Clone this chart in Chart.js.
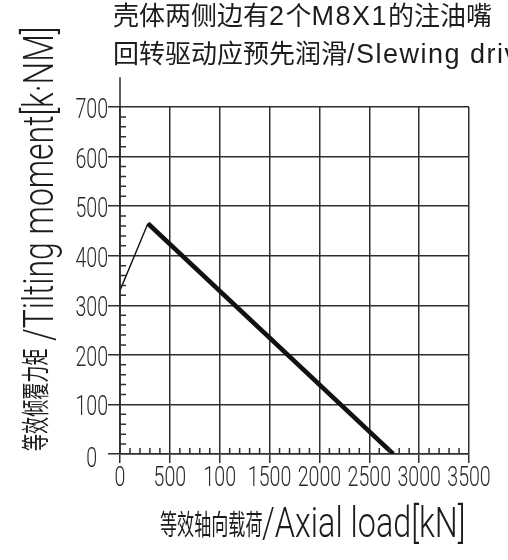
<!DOCTYPE html>
<html>
<head>
<meta charset="utf-8">
<script src="https://cdn.jsdelivr.net/npm/chart.js@4"></script>
<style>
  body { margin: 0; background: #fff; }
  #wrap { position: relative; width: 508px; height: 560px; overflow: hidden; }
  .t { position: absolute; white-space: nowrap; color: #1c1c1c; }
  .hdr { left: 113px; font: 26px "Liberation Sans", "Noto Sans CJK SC", sans-serif; line-height: 26px; }
  .hdr b { font-weight: normal; font-size: 27px; letter-spacing: 1.5px; }
  .cjk { font: 28px "Noto Sans CJK SC", sans-serif; line-height: 28px; transform-origin: 0 0; }
  .lat { font: 300 42px Roboto, "Liberation Sans", sans-serif; line-height: 42px; transform-origin: 0 0; }
</style>
</head>
<body>
<div id="wrap">
  <canvas id="myChart" width="508" height="560"></canvas>
  <div class="t hdr" style="top:3px">壳体两侧边有<b>2</b>个<b>M8X1</b>的注油嘴</div>
  <div class="t hdr" style="top:41px">回转驱动应预先润滑<b>/Slewing drive should be pre-lubricated</b></div>
  <div class="t cjk" style="left:20px;top:451px;transform:rotate(-90deg) scaleX(0.61)">等效倾覆力矩</div>
  <div class="t lat" style="left:18px;top:341px;transform:rotate(-90deg) scaleX(0.76)">/Tilting moment[k·NM]</div>
  <div class="t cjk" style="left:160px;top:509px;transform:scaleX(0.61)">等效轴向载荷</div>
  <div class="t lat" style="left:262px;top:502px;transform:scaleX(0.77)">/Axial load[kN]</div>
</div>
<script>
// curve points
const axialLoad = [0, 280, 2740]
const tiltingMoment = [330, 465, 0]

const xTickValues = [0, 500, 1000, 1500, 2000, 2500, 3000, 3500]
const xTickLabels = ['0', '500', '100', '1500', '2000', '2500', '3000', '3500']
const yTickValues = [0, 100, 200, 300, 400, 500, 600, 700]
const yTickLabels = ['0', '100', '200', '300', '400', '500', '600', '700']

const xMinorStep = 100
const yMinorStep = 20
const yAxisTop = 760

const lineColor = '#2e2e2e'
const textColor = '#2a2a2a'

const ctx = document.querySelector('#myChart')

// minor ticks, axis stub above 700 and the narrow tick labels
const cadAxes = {
    id: 'cadAxes',
    afterDraw(chart) {
        const { ctx, scales: { x, y } } = chart
        const x0 = x.getPixelForValue(0)
        const y0 = y.getPixelForValue(0)
        ctx.save()
        ctx.strokeStyle = lineColor
        ctx.lineWidth = 1.5
        ctx.beginPath()
        ctx.moveTo(x0, y0)
        ctx.lineTo(x0, y.getPixelForValue(yAxisTop))
        for (let v = xMinorStep; v < x.max; v += xMinorStep) {
            if (v % 500 === 0) continue
            const px = x.getPixelForValue(v)
            ctx.moveTo(px, y0)
            ctx.lineTo(px, y0 - 6)
        }
        for (let v = yMinorStep; v < y.max; v += yMinorStep) {
            if (v % 100 === 0) continue
            const py = y.getPixelForValue(v)
            ctx.moveTo(x0, py)
            ctx.lineTo(x0 + 6, py)
        }
        ctx.stroke()

        ctx.fillStyle = textColor
        ctx.font = '300 28px Roboto, "Liberation Sans", sans-serif'
        ctx.textBaseline = 'alphabetic'
        x.ticks.forEach((t, i) => {
            ctx.save()
            ctx.translate(x.getPixelForValue(t.value), y0 + 32)
            ctx.scale(0.7, 1)
            ctx.textAlign = 'center'
            ctx.fillText(xTickLabels[i], 0, 0)
            ctx.restore()
        })
        y.ticks.forEach((t, i) => {
            ctx.save()
            ctx.translate(t.value === 0 ? x0 - 23 : x0 - 12, y.getPixelForValue(t.value) + (t.value === 0 ? 13 : 11))
            ctx.scale(0.7, 1)
            ctx.textAlign = 'right'
            ctx.fillText(yTickLabels[i], 0, 0)
            ctx.restore()
        })
        ctx.restore()
    }
}

new Chart(ctx, {
    type: 'line',
    data: {
        datasets: [{
            data: axialLoad.map((v, i) => ({ x: v, y: tiltingMoment[i] })),
            borderColor: '#111',
            borderWidth: 4,
            pointRadius: 0,
            tension: 0,
            segment: {
                borderWidth: c => c.p0DataIndex === 0 ? 1.4 : 4.5
            }
        }]
    },
    options: {
        responsive: false,
        animation: false,
        layout: {
            autoPadding: false,
            padding: { top: 107, right: 39, bottom: 0, left: 0 }
        },
        plugins: {
            legend: { display: false },
            tooltip: { enabled: false }
        },
        scales: {
            x: {
                type: 'linear',
                min: 0,
                max: 3500,
                afterBuildTicks: s => { s.ticks = xTickValues.map(v => ({ value: v })) },
                afterFit: s => { s.height = 106 },
                ticks: { display: false },
                grid: { color: lineColor, lineWidth: 1.5, tickLength: 9, drawTicks: true },
                border: { color: lineColor, width: 1.5 }
            },
            y: {
                min: 0,
                max: 700,
                afterBuildTicks: s => { s.ticks = yTickValues.map(v => ({ value: v })) },
                afterFit: s => { s.width = 120 },
                ticks: { display: false },
                grid: { color: lineColor, lineWidth: 1.5, tickLength: 12, drawTicks: true },
                border: { color: lineColor, width: 1.5 }
            }
        }
    },
    plugins: [cadAxes]
})
</script>
</body>
</html>
